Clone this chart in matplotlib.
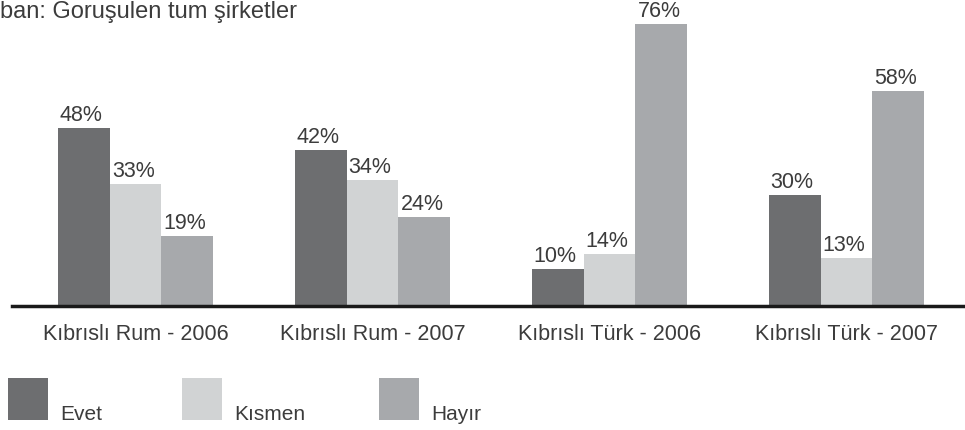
import matplotlib.pyplot as plt
import numpy as np
from matplotlib.patches import Rectangle

plt.rcParams['font.family'] = ['Liberation Sans', 'DejaVu Sans']

groups = ['Kıbrıslı Rum - 2006', 'Kıbrıslı Rum - 2007', 'Kıbrıslı Türk - 2006', 'Kıbrıslı Türk - 2007']
series = ['Evet', 'Kısmen', 'Hayır']
evet = [48, 42, 10, 30]
kismen = [33, 34, 14, 13]
hayir = [19, 24, 76, 58]
colors = ['#6d6e70', '#d1d3d4', '#a7a9ac']
txt = '#3c3c3c'

W, H = 965, 430
fig = plt.figure(figsize=(W / 100, H / 100), dpi=100)
base = 306
ax = fig.add_axes([12 / W, 1 - base / H, 1 - 12 / W, base / H])

x = np.arange(len(groups))
w = 0.219
for i, vals in enumerate([evet, kismen, hayir]):
    pos = x + (i - 1) * w
    ax.bar(pos, vals, width=w, color=colors[i], linewidth=0)
    for p, v in zip(pos, vals):
        ax.annotate(f'{v}%', (p - 0.01, v), xytext=(0, 5), textcoords='offset points',
                    ha='center', va='baseline', fontsize=15.5, color=txt)

ax.set_xlim(-0.521, 3.5)
ax.set_ylim(0, base / 3.71)
for s in ['top', 'right', 'left']:
    ax.spines[s].set_visible(False)
ax.spines['bottom'].set_linewidth(2.5)
ax.spines['bottom'].set_color('#1a1a1a')
ax.set_yticks([])
ax.set_xticks(x)
ax.set_xticklabels(groups, fontsize=15.5, color=txt)
ax.tick_params(axis='x', length=0, pad=13)

fig.text(0, 1 - 1 / H, 'ban: Goruşulen tum şirketler', ha='left', va='top', fontsize=17, color=txt)

# legend
for name, c, lx in zip(series, colors, [8, 182, 379]):
    fig.add_artist(Rectangle((lx / W, 1 - 420 / H), 40 / W, 42 / H, transform=fig.transFigure,
                             color=c, linewidth=0))
    fig.text((lx + 52) / W, 1 - 420 / H, name, ha='left', va='baseline', fontsize=15, color=txt)

fig.savefig('out.png', dpi=100)
